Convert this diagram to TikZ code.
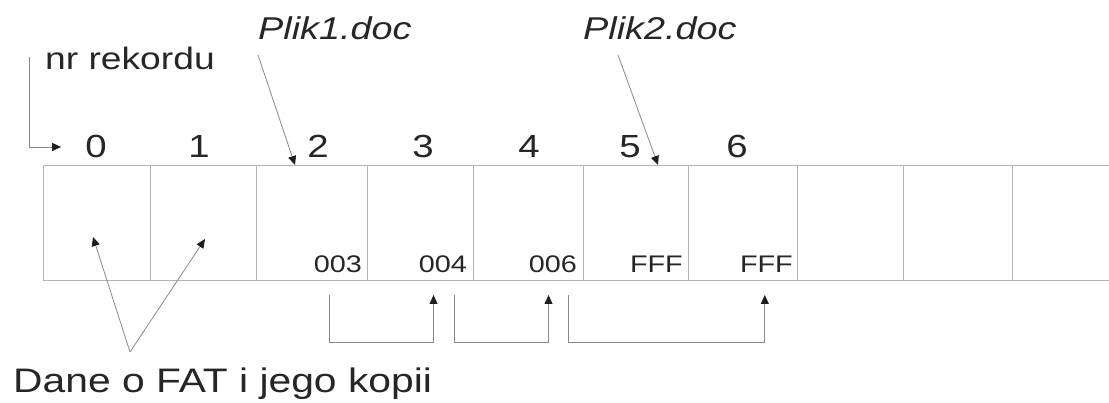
\documentclass[tikz,border=0pt]{standalone}
\usepackage{fontspec}
\setmainfont[FakeStretch=1.2]{Liberation Sans}
\usetikzlibrary{arrows.meta}
\definecolor{textgray}{HTML}{262626}
\definecolor{gridgray}{HTML}{B4B4B4}
\definecolor{conngray}{HTML}{8A8A8A}
\definecolor{tipgray}{HTML}{1E1E1E}
\begin{document}
\begin{tikzpicture}[x=1pt,y=-1pt,
  cell/.style={draw=gridgray, line width=1.1pt, rectangle, inner sep=0pt, minimum height=115pt, anchor=north west},
  conn/.style={draw=conngray, line width=0.8pt, -{Triangle[length=9pt,width=8pt,color=tipgray]}},
  big/.style={text=textgray, inner sep=0pt, font=\fontsize{32}{36}\selectfont},
  small/.style={text=textgray, inner sep=0pt, font=\fontsize{24}{28}\selectfont, anchor=base east},
  label/.style={text=textgray, inner sep=0pt, anchor=base west}]
\useasboundingbox (0,0) rectangle (1109,403);
% cells
\foreach \i/\xl/\xr in {0/43/150,1/150/256,2/256/367,3/367/473,4/473/583,5/583/688,6/688/797,7/797/903,8/903/1012,9/1012/1125}{
  \node[cell, minimum width={(\xr-\xl)*1pt}] (c\i) at (\xl,165) {};
}
% record numbers
\foreach \i/\x in {0/96,1/199,2/318,3/423,4/529,5/630,6/737}{
  \node[big, anchor=base] (d\i) at (\x,158) {\i};
}
% labels
\node[label, font=\fontsize{31}{36}\selectfont] (nrr) at (45,70) {nr rekordu};
\node[label, font=\fontsize{31.5}{36}\selectfont\itshape] (p1) at (258,40) {Plik1.doc};
\node[label, font=\fontsize{31.5}{36}\selectfont\itshape] (p2) at (583,40) {Plik2.doc};
\node[label, font=\fontsize{34}{38}\selectfont] (fat) at (13,392) {Dane o FAT i jego kopii};
% FAT entries
\node[small] (v2) at (362,273) {003};
\node[small] (v3) at (467,273) {004};
\node[small] (v4) at (577,273) {006};
\node[small] (v5) at (683,273) {FFF};
\node[small] (v6) at (793,273) {FFF};
% helper coordinates
\coordinate (fatapex) at (130,352);
\coordinate (fat0) at (93,237);
\coordinate (fat1) at (205,239);
\coordinate (p1tip) at (295,165);
\coordinate (p2tip) at (658,165);
% connectors
\draw[conn] ([xshift=-16pt,yshift=2pt]nrr.west) |- ([xshift=-24pt]d0.west);
\draw[conn] ([yshift=-15pt]p1.base west) -- (p1tip);
\draw[conn] ([xshift=35pt,yshift=-15pt]p2.base west) -- (p2tip);
\draw[conn] (fatapex) -- (fat0);
\draw[conn] (fatapex) -- (fat1);
\draw[conn] ([xshift=16pt,yshift=-22pt]v2.base west) |- ++(0,47) -| ([xshift=15pt,yshift=-22pt]v3.base west);
\draw[conn] ([xshift=-13pt,yshift=-22pt]v3.base east) |- ++(0,47) -| ([xshift=20pt,yshift=-22pt]v4.base west);
\draw[conn] ([xshift=-9pt,yshift=-22pt]v4.base east) |- ++(0,47) -| ([xshift=25pt,yshift=-22pt]v6.base west);
\end{tikzpicture}
\end{document}
